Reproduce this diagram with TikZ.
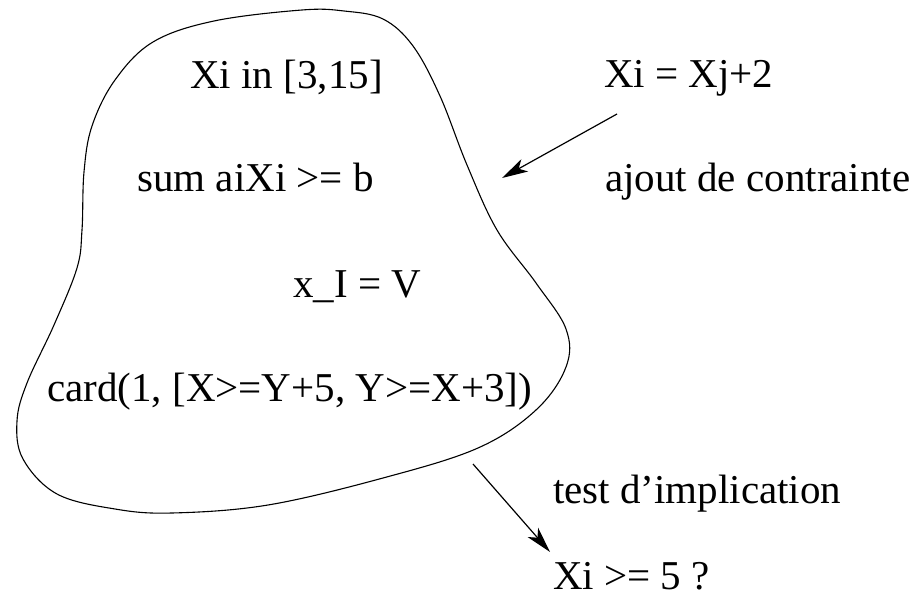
\documentclass[tikz,border=0pt]{standalone}
\usepackage{fontspec}
\setmainfont{Liberation Serif}
\usetikzlibrary{arrows.meta}
\begin{document}
\begin{tikzpicture}[x=1pt,y=-1pt,
  lbl/.style={anchor=base west,inner sep=0pt,font=\fontsize{41}{49}\selectfont},
  arr/.style={-{Stealth[length=26pt,width=14pt,inset=7pt]},line width=1.2pt},
  blob/.style={line width=1.1pt}]
\useasboundingbox (0,0) rectangle (921,596);
\draw[blob] plot[smooth cycle,tension=0.6] coordinates {
 (302,10) (214,21) (153,42) (115,80) (92,126) (84,172) (82,230) (77,268)
 (54,325) (27,383) (17,421) (23,459) (57,494) (115,509) (172,513) (268,505)
 (383,478) (478,448) (536,410) (566,367) (566,329) (536,283) (497,230)
 (467,165) (440,96) (413,46) (383,19) (344,11)};
\node[lbl] (t1) at (190,89) {Xi in [3,15]};
\node[lbl] (t2) at (137,192) {sum aiXi >= b};
\node[lbl] (t3) at (293,297) {x\_I = V};
\node[lbl] (t4) at (47,401) {card(1, [X>=Y+5, Y>=X+3])};
\node[lbl] (r1) at (604,88) {Xi = Xj+2};
\node[lbl] (r2) at (605,192) {ajout de contrainte};
\node[lbl] (r3) at (553,503) {test d'implication};
\node[lbl] (r4) at (553,589) {Xi >= 5 ?};
\coordinate (a1s) at (617,114);
\coordinate (a1e) at (502,178);
\coordinate (a2s) at (473,464);
\coordinate (a2e) at (550,552);
\draw[arr] (a1s) -- (a1e);
\draw[arr] (a2s) -- (a2e);
\end{tikzpicture}
\end{document}
